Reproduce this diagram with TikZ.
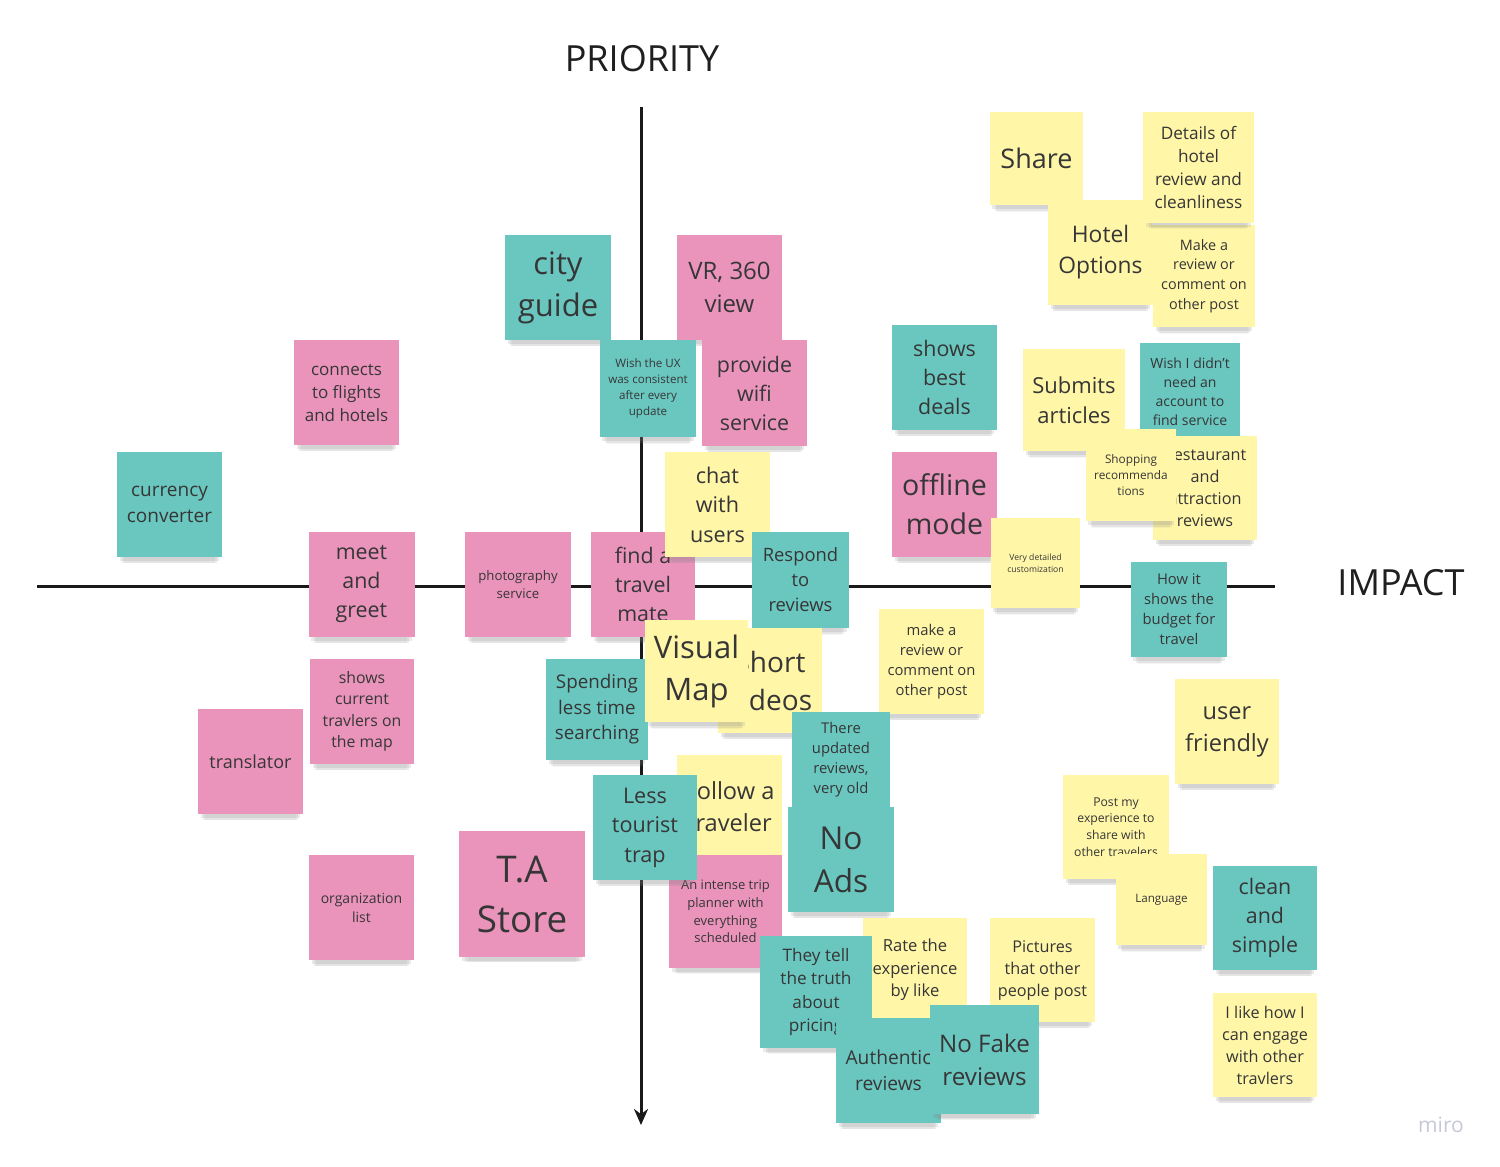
\documentclass[tikz,border=0pt]{standalone}
\usepackage{fontspec}
\setmainfont{Open Sans}
\usetikzlibrary{shadows,arrows.meta}
\definecolor{stickyteal}{HTML}{6AC7C0}
\definecolor{stickypink}{HTML}{EA94BC}
\definecolor{stickyyellow}{HTML}{FFF6A8}
\definecolor{ink}{HTML}{363636}
\definecolor{mirogray}{HTML}{C6C8D8}
\begin{document}
\begin{tikzpicture}[x=0.5pt, y=-0.5pt, >={Stealth[length=8pt,width=7pt]},
  note/.style={inner sep=0pt, align=center, text=ink,
    drop shadow={shadow xshift=0pt, shadow yshift=-8pt, shadow scale=0.86, opacity=0.08},
    drop shadow={shadow xshift=0pt, shadow yshift=-6pt, shadow scale=0.9, opacity=0.14},
    drop shadow={shadow xshift=0pt, shadow yshift=-3.5pt, shadow scale=0.95, opacity=0.16}},
  tealnote/.style={note, fill=stickyteal},
  pinknote/.style={note, fill=stickypink},
  yellownote/.style={note, fill=stickyyellow},
  dims/.style args={#1/#2}{minimum width=#1*0.5pt, minimum height=#2*0.5pt},
  fs/.style args={#1/#2}{font=\fontsize{#1}{#2}\selectfont},
  axis/.style={line width=1.5pt, black!90},
  heading/.style={font=\fontsize{18}{22}\selectfont, text=black!88}]
  \useasboundingbox[fill=white] (0,0) rectangle (1500,1167);
  % axes
  \coordinate (ptop) at (641,107);
  \coordinate (pbot) at (641,1125);
  \coordinate (ileft) at (37,586);
  \coordinate (iright) at (1275,586);
  \draw[axis, ->] (ptop) -- (pbot);
  \draw[axis] (ileft) -- (iright);
  \node[heading] (priority) at (642,59) {PRIORITY};
  \node[heading] (impact) at (1401,583) {IMPACT};
  \node[font=\fontsize{10.5}{12}\selectfont, text=mirogray] (miro) at (1441,1125) {miro};
  % upper left quadrant
  \node[tealnote, dims=106/105, fs=15.5/21] (cityguide) at (558,287.5) {city\\guide};
  \node[pinknote, dims=105/105, fs=12/16.5] (vrview) at (729.5,287.5) {VR, 360\\view};
  \node[tealnote, dims=96/97, fs=5.8/7.85] (wishux) at (648,388.5) {Wish the UX\\was consistent\\after every\\update};
  \node[pinknote, dims=105/106, fs=10.7/14.5] (wifi) at (754.5,393) {provide\\wifi\\service};
  \node[pinknote, dims=105/105, fs=8.5/11.5] (flights) at (346.5,392.5) {connects\\to flights\\and hotels};
  \node[tealnote, dims=105/105, fs=9.5/13] (currency) at (169.5,504.5) {currency\\converter};
  \node[pinknote, dims=106/105, fs=10.7/14.5] (greet) at (361.5,584.5) {meet\\and\\greet};
  \node[pinknote, dims=106/105, fs=6.6/9] (photo) at (518,584.5) {photography\\service};
  \node[pinknote, dims=104/105, fs=10.7/14.5] (mate) at (643,584.5) {find a\\travel\\mate};
  \node[yellownote, dims=105/105, fs=10.8/14.75] (chat) at (717.5,504.5) {chat\\with\\users};
  \node[tealnote, dims=97/96, fs=9.2/12.5] (respond) at (800.5,580) {Respond\\to\\reviews};
  % right of the priority axis
  \node[tealnote, dims=105/105, fs=10.7/14.5] (deals) at (944.5,377.5) {shows\\best\\deals};
  \node[pinknote, dims=105/105, fs=14.3/19.5] (offline) at (944.5,504.5) {offline\\mode};
  \node[yellownote, dims=89/90, fs=4.3/5.85] (custom) at (1035.5,563) {Very detailed\\customization};
  \node[yellownote, dims=93/93, fs=13.5/17] (share) at (1036.5,158.5) {Share};
  \node[yellownote, dims=105/105, fs=11.4/15.5] (hoteloptions) at (1100.5,252.5) {Hotel\\Options};
  \node[yellownote, dims=102/102, fs=7.2/9.85] (reviewpost) at (1204,276) {Make a\\review or\\comment on\\other post};
  \node[yellownote, dims=111/111, fs=8.6/11.65] (details) at (1198.5,167.5) {Details of\\hotel\\review and\\cleanliness};
  \node[yellownote, dims=102/102, fs=11/15] (submits) at (1074,400) {Submits\\articles};
  \node[tealnote, dims=100/97, fs=7/9.5] (noaccount) at (1190,391.5) {Wish I didn't\\need an\\account to\\find service};
  \node[yellownote, dims=104/104, fs=8.1/11] (restaurant) at (1205,488) {Restaurant\\and\\attraction\\reviews};
  \node[yellownote, dims=90/92, fs=5.9/8] (shopping) at (1131,475) {Shopping\\recommenda\\tions};
  \node[tealnote, dims=96/95, fs=7.4/10] (budget) at (1179,609.5) {How it\\shows the\\budget for\\travel};
  % lower left quadrant
  \node[pinknote, dims=104/105, fs=7.9/10.75] (curtravlers) at (362,711.5) {shows\\current\\travlers on\\the map};
  \node[pinknote, dims=105/105, fs=9/12] (translator) at (250.5,761.5) {translator};
  \node[pinknote, dims=105/105, fs=7/9.5] (orglist) at (361.5,907.5) {organization\\list};
  \node[pinknote, dims=126/126, fs=18.4/25] (tastore) at (522,894) {T.A\\Store};
  \node[tealnote, dims=102/101, fs=9.4/12.75] (spending) at (597,709.5) {Spending\\less time\\searching};
  % lower right quadrant
  \node[yellownote, dims=104/105, fs=14/19] (shortvid) at (770,680.5) {Short\\videos};
  \node[yellownote, dims=103/102, fs=15.5/21] (visualmap) at (696.5,671) {Visual\\Map};
  \node[yellownote, dims=105/105, fs=7.4/10] (makereview) at (931.5,661.5) {make a\\review or\\comment on\\other post};
  \node[tealnote, dims=98/96, fs=7.4/10] (updated) at (841,760) {There\\updated\\reviews,\\very old};
  \node[tealnote, dims=106/105, fs=15.8/21.5] (noads) at (841,859.5) {No\\Ads};
  \node[yellownote, dims=105/104, fs=11.8/16] (follow) at (729.5,807) {Follow a\\traveler};
  \node[pinknote, dims=113/113, fs=6.5/8.85] (intense) at (725.5,911.5) {An intense trip\\planner with\\everything\\scheduled};
  \node[tealnote, dims=104/105, fs=10.8/14.75] (lesstrap) at (645,827.5) {Less\\tourist\\trap};
  \node[yellownote, dims=104/104, fs=8.3/11.25] (ratelike) at (915,970) {Rate the\\experience\\by like};
  \node[yellownote, dims=105/104, fs=8.1/11] (pictures) at (1042.5,970) {Pictures\\that other\\people post};
  \node[tealnote, dims=112/112, fs=8.6/11.75] (pricing) at (816,992) {They tell\\the truth\\about\\pricing};
  \node[tealnote, dims=105/105, fs=9.6/13] (authentic) at (888.5,1070.5) {Authentic\\reviews};
  \node[tealnote, dims=109/109, fs=12.1/16.5] (nofake) at (984.5,1059.5) {No Fake\\reviews};
  \node[yellownote, dims=104/105, fs=11.8/16] (friendly) at (1227,731.5) {user\\friendly};
  \node[yellownote, dims=106/104, fs=6.1/8.35] (postexp) at (1116,827) {Post my\\experience to\\share with\\other travelers};
  \node[yellownote, dims=91/91, fs=5.8/8] (language) at (1161.5,899.5) {Language};
  \node[tealnote, dims=104/104, fs=10.7/14.5] (clean) at (1265,918) {clean\\and\\simple};
  \node[yellownote, dims=104/104, fs=8.1/11] (engage) at (1265,1045) {I like how I\\can engage\\with other\\travlers};
\end{tikzpicture}
\end{document}
